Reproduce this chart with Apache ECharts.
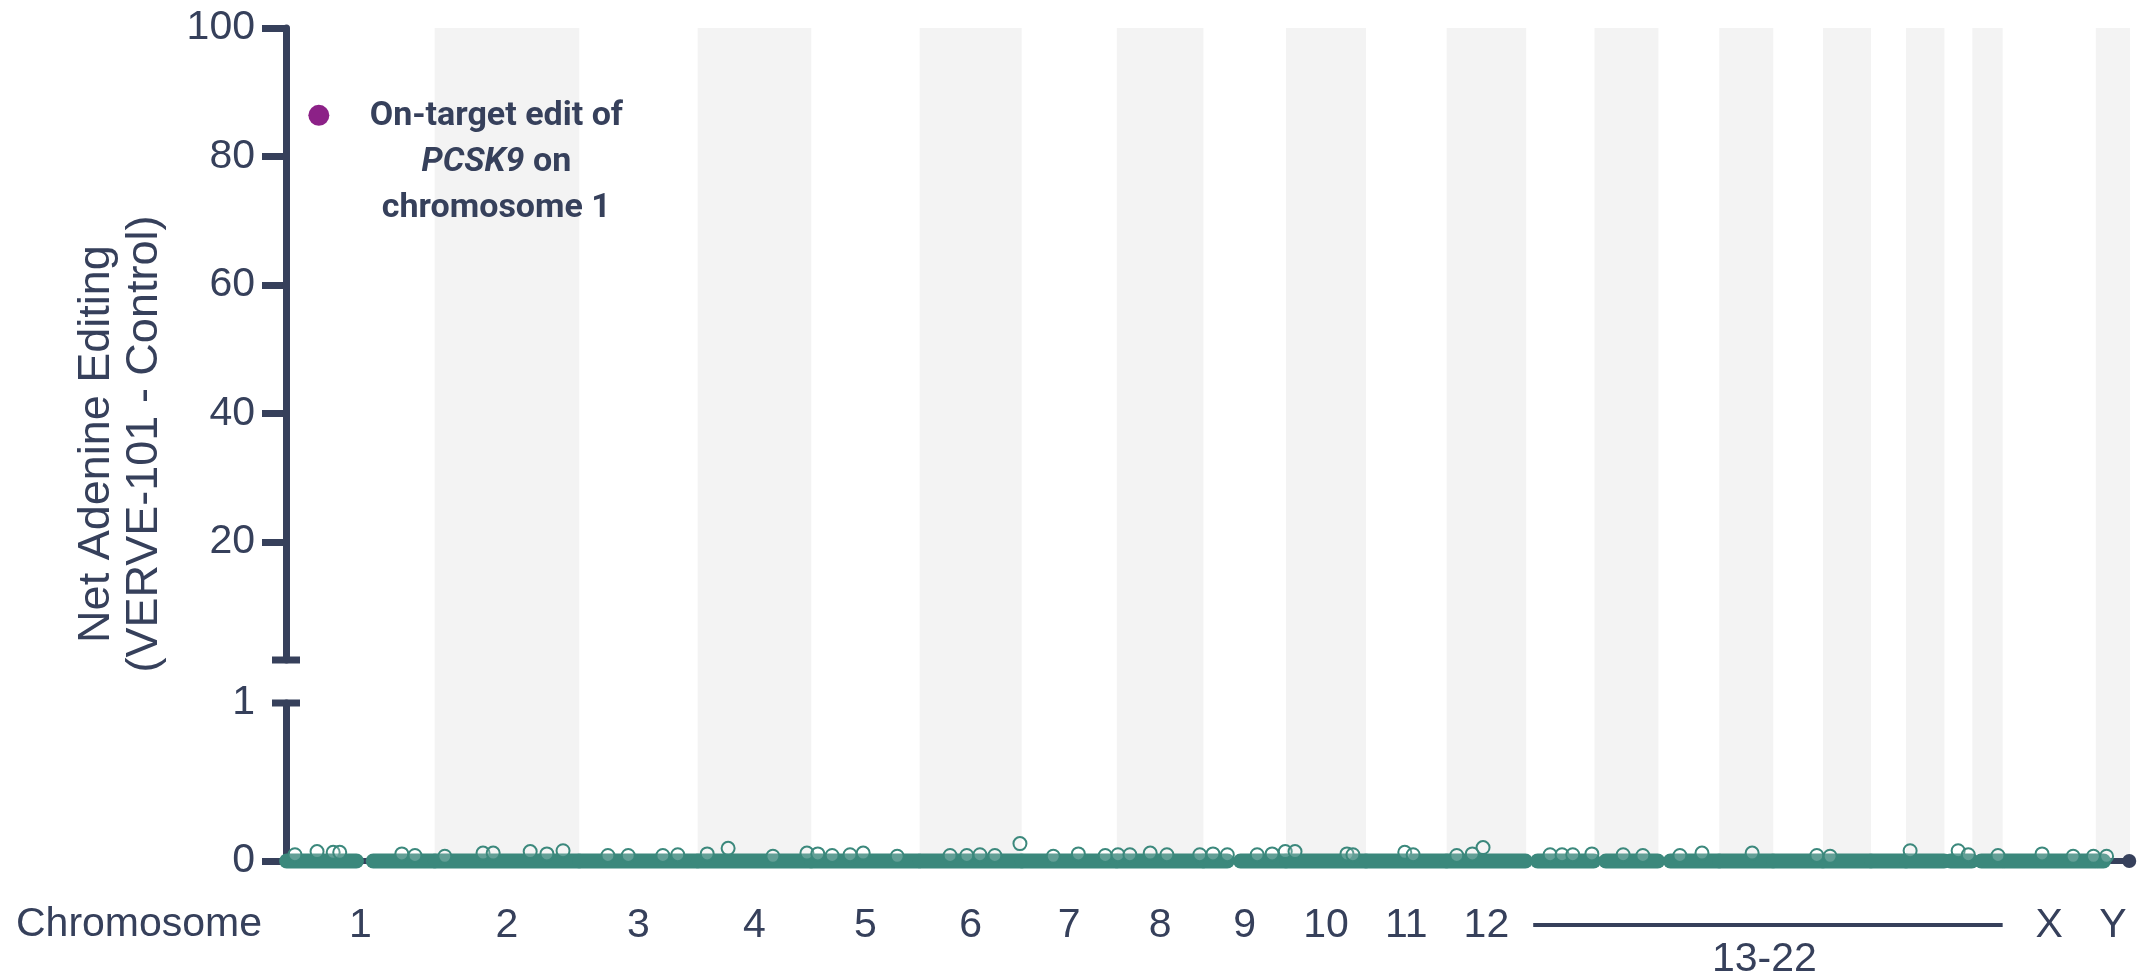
<!DOCTYPE html>
<html>
<head>
<meta charset="utf-8">
<script src="https://cdn.jsdelivr.net/npm/echarts@6/dist/echarts.min.js"></script>
<style>
  html, body { margin: 0; background: #fff; }
  #chart { width: 2139px; height: 979px; }
</style>
</head>
<body>
<div id="chart"></div>
<script>
// chromosome sizes in Mb (hg38)
const chromNames = ['1','2','3','4','5','6','7','8','9','10','11','12','13','14','15','16','17','18','19','20','21','22','X','Y'];
const chromLengths = [248.96, 242.19, 198.30, 190.21, 181.54, 170.81, 159.35, 145.14, 138.39, 133.80, 135.09, 133.28,
  114.36, 107.04, 101.99, 90.34, 83.26, 80.37, 58.62, 64.44, 46.71, 50.82, 156.04, 57.23];
const labelledChroms = ['1','2','3','4','5','6','7','8','9','10','11','12','X','Y'];
const groupFrom = '13', groupTo = '22', groupLabel = '13-22';

const topTicks = [20, 40, 60, 80, 100];
const bottomTicks = [0, 1];

// on-target site
const onTargetChrom = '1', onTargetPos = 55.0, onTargetValue = 86.4;

// stretches densely covered by sites sitting at ~0
const segChrom = ['1','1','2','3','4','5','6','7','8','9','9','10','11','12','13','14','15','16','17','18','19','20','21','22','X','Y'];
const segStart = [1, 146, 1, 1, 1, 1, 1, 1, 1, 1, 62, 1, 1, 1, 19, 19, 20, 1, 1, 1, 1, 1, 10, 15, 3, 3];
const segEnd   = [118, 248, 241, 197, 189, 180, 170, 158, 144, 40, 137, 133, 134, 132, 113, 106, 101, 89, 82, 79, 58, 64, 46, 50, 155, 13];

// sites visibly above the baseline
const hitChrom = ['1','1','1','1','1','1','2','2','2','2','2','2','3','3','3','3','4','4','4','4',
  '5','5','5','5','5','6','6','6','6','6','7','7','7','8','8','8','8','8','9','9','9','9','9',
  '10','10','10','11','11','12','12','12','13','13','13','13','14','14','15','15','16','17','18',
  '20','21','21','22','X','X','X','Y'];
const hitPos = [15, 52, 79, 90, 194, 216, 17, 81, 98, 160, 188, 215, 48, 82, 140, 165, 16, 51, 126, 183,
  11, 35, 65, 87, 144, 51, 79, 101, 126, 168, 53, 95, 140, 2, 22, 56, 84, 139, 16, 40, 90, 115, 137,
  15, 102, 112, 65, 79, 17, 43, 61, 40, 60, 78, 110, 48, 81, 36, 73, 55, 73, 12,
  7, 23, 40, 43, 66, 118, 152, 18];
const hitValue = [0.04, 0.06, 0.055, 0.055, 0.045, 0.035, 0.03, 0.05, 0.05, 0.06, 0.045, 0.065, 0.035, 0.035, 0.035, 0.04, 0.045, 0.08, 0.03, 0.05,
  0.045, 0.035, 0.04, 0.05, 0.03, 0.035, 0.035, 0.04, 0.035, 0.11, 0.03, 0.045, 0.035, 0.04, 0.04, 0.05, 0.04, 0.04, 0.045, 0.04, 0.04, 0.045, 0.06,
  0.06, 0.045, 0.04, 0.055, 0.04, 0.035, 0.045, 0.085, 0.04, 0.04, 0.04, 0.045, 0.04, 0.035, 0.035, 0.05, 0.05, 0.035, 0.03,
  0.065, 0.065, 0.04, 0.035, 0.045, 0.03, 0.03, 0.03];

const endDotChrom = 'Y', endDotPos = 56, endDotValue = 0;

const ink = '#36405b';
const teal = '#3b887c';
const purple = '#8c2187';
const band = '#f3f3f3';
const sans = '"Liberation Sans", Arial, sans-serif';

// cumulative offsets
const chromStart = {};
let total = 0;
chromNames.forEach((c, i) => { chromStart[c] = total; total += chromLengths[i]; });
const gpos = (c, p) => chromStart[c] + p;
const center = c => chromStart[c] + chromLengths[chromNames.indexOf(c)] / 2;

const labelValues = labelledChroms.map(center);
const bandData = chromNames
  .map((c, i) => [chromStart[c], chromStart[c] + chromLengths[i], i])
  .filter(d => d[2] % 2 === 1);
const segData = segChrom.map((c, i) => [gpos(c, segStart[i]), gpos(c, segEnd[i]), 0]);
const hitData = hitChrom.map((c, i) => [gpos(c, hitPos[i]), hitValue[i]]);

const chart = echarts.init(document.getElementById('chart'));

const xBase = { type: 'value', min: 0, max: total, splitLine: { show: false }, axisTick: { show: false } };

const option = {
  animation: false,
  grid: [
    { left: 286, top: 28, width: 1844, height: 632, outerBoundsMode: 'none' },
    { left: 286, top: 703, width: 1844, height: 158, outerBoundsMode: 'none' },
    { left: 286, top: 28, width: 1844, height: 833, outerBoundsMode: 'none' }
  ],
  xAxis: [
    { ...xBase, gridIndex: 0, show: false },
    {
      ...xBase, gridIndex: 1,
      axisLine: { show: true, lineStyle: { color: ink, width: 6 } },
      axisLabel: {
        customValues: labelValues,
        formatter: v => labelledChroms[labelValues.findIndex(x => Math.abs(x - v) < 1e-6)] || '',
        fontSize: 41, fontFamily: sans, color: ink, margin: 44
      }
    },
    { ...xBase, gridIndex: 2, show: false }
  ],
  yAxis: [
    {
      type: 'value', gridIndex: 0, min: 1.6, max: 100,
      splitLine: { show: false },
      axisLine: { show: true, lineStyle: { color: ink, width: 7 }, symbol: ['rect', 'none'], symbolSize: [28, 7] },
      axisTick: { show: true, customValues: topTicks, length: 24, lineStyle: { color: ink, width: 7 } },
      axisLabel: { customValues: topTicks, fontSize: 41, fontFamily: sans, color: ink, margin: 31 }
    },
    {
      type: 'value', gridIndex: 1, min: 0, max: 1, interval: 1,
      splitLine: { show: false },
      axisLine: { show: true, lineStyle: { color: ink, width: 7 }, symbol: ['none', 'rect'], symbolSize: [28, 7] },
      axisTick: { show: true, customValues: [0], length: 24, lineStyle: { color: ink, width: 7 } },
      axisLabel: { customValues: bottomTicks, fontSize: 41, fontFamily: sans, color: ink, margin: 31 }
    },
    { type: 'value', gridIndex: 2, min: 0, max: 1, show: false }
  ],
  series: [
    {
      type: 'custom', xAxisIndex: 2, yAxisIndex: 2, z: -1, silent: true,
      data: bandData,
      encode: { x: [0, 1] },
      renderItem(params, api) {
        const p0 = api.coord([api.value(0), 1]);
        const p1 = api.coord([api.value(1), 0]);
        return {
          type: 'rect',
          shape: { x: p0[0], y: p0[1], width: p1[0] - p0[0], height: p1[1] - p0[1] },
          style: { fill: band }
        };
      }
    },
    {
      type: 'custom', xAxisIndex: 1, yAxisIndex: 1, silent: true,
      data: segData,
      encode: { x: [0, 1], y: 2 },
      renderItem(params, api) {
        const a = api.coord([api.value(0), 0]);
        const b = api.coord([api.value(1), 0]);
        return {
          type: 'line',
          shape: { x1: a[0], y1: a[1], x2: b[0], y2: b[1] },
          style: { stroke: teal, lineWidth: 15, lineCap: 'round' }
        };
      }
    },
    {
      type: 'scatter', xAxisIndex: 1, yAxisIndex: 1,
      data: hitData,
      symbolSize: 13,
      itemStyle: { color: 'rgba(255,255,255,0.2)', borderColor: teal, borderWidth: 2, opacity: 1 }
    },
    {
      type: 'scatter', xAxisIndex: 1, yAxisIndex: 1,
      data: [[gpos(endDotChrom, endDotPos), endDotValue]],
      symbolSize: 14,
      itemStyle: { color: ink, opacity: 1 }
    },
    {
      type: 'scatter', xAxisIndex: 0, yAxisIndex: 0,
      data: [[gpos(onTargetChrom, onTargetPos), onTargetValue]],
      symbolSize: 21,
      itemStyle: { color: purple, opacity: 1 },
      label: {
        show: true,
        position: [188, 58],
        align: 'center',
        verticalAlign: 'middle',
        formatter: 'On-target edit of\n{i|PCSK9} on\nchromosome 1',
        fontFamily: 'Roboto, sans-serif', fontWeight: 'bold', fontSize: 34,
        lineHeight: 46, color: ink,
        rich: {
          i: { fontFamily: 'Roboto, sans-serif', fontStyle: 'italic', fontWeight: 'bold', fontSize: 34, lineHeight: 46, color: ink }
        }
      }
    }
  ]
};

chart.setOption(option);

// bracket for 13-22 and free-standing texts
const gx0 = chart.convertToPixel({ xAxisIndex: 1 }, chromStart[groupFrom]);
const gx1 = chart.convertToPixel({ xAxisIndex: 1 }, chromStart[groupTo] + chromLengths[chromNames.indexOf(groupTo)]);

chart.setOption({
  graphic: [
    {
      type: 'text', x: 16, y: 925,
      style: { text: 'Chromosome', font: '41px ' + sans, fill: ink, textAlign: 'left', textVerticalAlign: 'middle' }
    },
    {
      type: 'text', x: 121, y: 444, rotation: Math.PI / 2,
      style: {
        text: 'Net Adenine Editing\n(VERVE-101 - Control)', font: '45px ' + sans, fill: ink,
        textAlign: 'center', textVerticalAlign: 'middle', lineHeight: 48
      }
    },
    {
      type: 'line', shape: { x1: gx0 + 7, y1: 925, x2: gx1, y2: 925 },
      style: { stroke: ink, lineWidth: 4 }
    },
    {
      type: 'text', x: (gx0 + gx1) / 2, y: 960,
      style: { text: groupLabel, font: '41px ' + sans, fill: ink, textAlign: 'center', textVerticalAlign: 'middle' }
    }
  ]
});
</script>
</body>
</html>
